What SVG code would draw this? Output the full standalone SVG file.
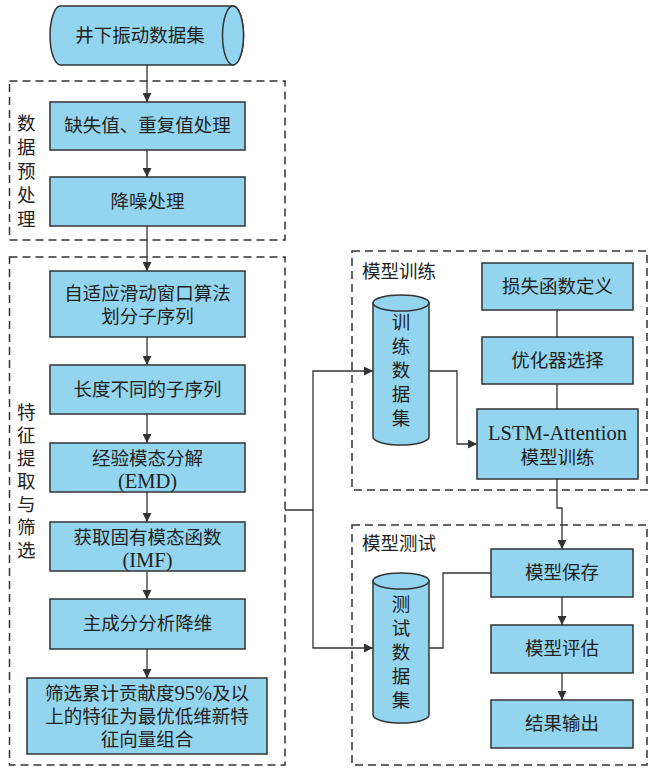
<svg xmlns="http://www.w3.org/2000/svg" width="651" height="768" viewBox="0 0 651 768">
<style>
  .box{fill:#93d5ee;stroke:#333;stroke-width:1.5}
  .dash{fill:none;stroke:#333;stroke-width:1.5;stroke-dasharray:8,5}
  .ln{fill:none;stroke:#333;stroke-width:1.3}
  .t{font-family:"Liberation Serif","Noto Sans CJK SC",serif;font-size:18.5px;fill:#222;text-anchor:middle}
  .lat{font-size:20.5px}
  .lbl{font-family:"Liberation Serif","Noto Sans CJK SC",serif;font-size:18.5px;fill:#222}
</style>
<defs>
  <marker id="arr" viewBox="0 0 10 10" refX="10" refY="5" markerWidth="9" markerHeight="9" markerUnits="userSpaceOnUse" orient="auto">
    <path d="M0,0 L10,5 L0,10 Z" fill="#333"/>
  </marker>
</defs>
<rect width="651" height="768" fill="#fff"/>

<g id="groups">
  <g id="grp-preprocess">
    <rect class="dash" x="9.5" y="81" width="275.5" height="159"/>
    <text class="lbl" x="17" y="130">数</text>
    <text class="lbl" x="17" y="154">据</text>
    <text class="lbl" x="17" y="178">预</text>
    <text class="lbl" x="17" y="202">处</text>
    <text class="lbl" x="17" y="226">理</text>
  </g>
  <g id="grp-feature">
    <rect class="dash" x="9.5" y="257" width="275.5" height="508"/>
    <text class="lbl" x="17" y="419">特</text>
    <text class="lbl" x="17" y="442">征</text>
    <text class="lbl" x="17" y="465">提</text>
    <text class="lbl" x="17" y="488">取</text>
    <text class="lbl" x="17" y="511">与</text>
    <text class="lbl" x="17" y="534">筛</text>
    <text class="lbl" x="17" y="557">选</text>
  </g>
  <g id="grp-train">
    <rect class="dash" x="352" y="251" width="295" height="239"/>
    <text class="lbl" x="362" y="278">模型训练</text>
  </g>
  <g id="grp-test">
    <rect class="dash" x="352" y="525" width="295" height="240"/>
    <text class="lbl" x="362" y="550">模型测试</text>
  </g>
</g>

<g id="connectors">
  <line class="ln" x1="147" y1="65" x2="147" y2="102" marker-end="url(#arr)"/>
  <line class="ln" x1="147" y1="150" x2="147" y2="177" marker-end="url(#arr)"/>
  <line class="ln" x1="147" y1="226" x2="147" y2="271" marker-end="url(#arr)"/>
  <line class="ln" x1="147" y1="337" x2="147" y2="365" marker-end="url(#arr)"/>
  <line class="ln" x1="147" y1="414" x2="147" y2="443" marker-end="url(#arr)"/>
  <line class="ln" x1="147" y1="492" x2="147" y2="522" marker-end="url(#arr)"/>
  <line class="ln" x1="147" y1="571" x2="147" y2="599" marker-end="url(#arr)"/>
  <line class="ln" x1="147" y1="649" x2="147" y2="678" marker-end="url(#arr)"/>
  <polyline class="ln" points="285,510 313,510 313,371 373,371" marker-end="url(#arr)"/>
  <polyline class="ln" points="313,510 313,648 373,648" marker-end="url(#arr)"/>
  <polyline class="ln" points="429,371 457,371 457,444 477,444" marker-end="url(#arr)"/>
  <line class="ln" x1="557" y1="310" x2="557" y2="337"/>
  <line class="ln" x1="557" y1="384" x2="557" y2="409"/>
  <polyline class="ln" points="557,479 557,508 562,508 562,549" marker-end="url(#arr)"/>
  <polyline class="ln" points="491,573 443,573 443,648 429,648"/>
  <line class="ln" x1="562" y1="597" x2="562" y2="625" marker-end="url(#arr)"/>
  <line class="ln" x1="562" y1="673" x2="562" y2="700" marker-end="url(#arr)"/>
</g>

<g id="n-dataset">
  <path class="box" d="M60.5,6 L233,6 A10.5,29.5 0 0 1 233,65 L60.5,65 A10.5,29.5 0 0 1 60.5,6 Z"/>
  <ellipse class="box" cx="233" cy="35.5" rx="10.5" ry="29.5"/>
  <text class="t" x="140" y="42">井下振动数据集</text>
</g>
<g id="n-missing">
  <rect class="box" x="50" y="102" width="195" height="48"/>
  <text class="t" x="147.5" y="132">缺失值、重复值处理</text>
</g>
<g id="n-denoise">
  <rect class="box" x="50" y="177" width="195" height="49"/>
  <text class="t" x="147.5" y="208">降噪处理</text>
</g>
<g id="n-window">
  <rect class="box" x="50" y="271" width="195" height="66"/>
  <text class="t" x="147.5" y="300">自适应滑动窗口算法</text>
  <text class="t" x="147.5" y="323">划分子序列</text>
</g>
<g id="n-subseq">
  <rect class="box" x="50" y="365" width="195" height="49"/>
  <text class="t" x="147.5" y="396">长度不同的子序列</text>
</g>
<g id="n-emd">
  <rect class="box" x="50" y="443" width="195" height="49"/>
  <text class="t" x="147.5" y="465">经验模态分解</text>
  <text class="t lat" x="147.5" y="488">(EMD)</text>
</g>
<g id="n-imf">
  <rect class="box" x="50" y="522" width="195" height="49"/>
  <text class="t" x="147.5" y="544">获取固有模态函数</text>
  <text class="t lat" x="147.5" y="567">(IMF)</text>
</g>
<g id="n-pca">
  <rect class="box" x="50" y="599" width="195" height="50"/>
  <text class="t" x="147.5" y="630">主成分分析降维</text>
</g>
<g id="n-select">
  <rect class="box" x="27" y="678" width="240" height="76"/>
  <text class="t" x="147" y="700">筛选累计贡献度<tspan class="lat">95%</tspan>及以</text>
  <text class="t" x="147" y="723">上的特征为最优低维新特</text>
  <text class="t" x="147" y="746">征向量组合</text>
</g>

<g id="n-traindata">
  <path class="box" d="M373,303 L373,437 A28,8 0 0 0 429,437 L429,303 Z"/>
  <ellipse class="box" cx="401" cy="303" rx="28" ry="8"/>
  <text class="t" x="401" y="329">训</text>
  <text class="t" x="401" y="353">练</text>
  <text class="t" x="401" y="377">数</text>
  <text class="t" x="401" y="401">据</text>
  <text class="t" x="401" y="425">集</text>
</g>
<g id="n-loss">
  <rect class="box" x="482" y="263" width="151" height="47"/>
  <text class="t" x="557.5" y="293">损失函数定义</text>
</g>
<g id="n-opt">
  <rect class="box" x="482" y="337" width="151" height="47"/>
  <text class="t" x="557.5" y="367">优化器选择</text>
</g>
<g id="n-lstm">
  <rect class="box" x="477" y="409" width="161" height="70"/>
  <text class="t lat" x="557.5" y="440">LSTM-Attention</text>
  <text class="t" x="557.5" y="464">模型训练</text>
</g>

<g id="n-testdata">
  <path class="box" d="M373,581 L373,715 A28,8 0 0 0 429,715 L429,581 Z"/>
  <ellipse class="box" cx="401" cy="581" rx="28" ry="8"/>
  <text class="t" x="401" y="611">测</text>
  <text class="t" x="401" y="635">试</text>
  <text class="t" x="401" y="659">数</text>
  <text class="t" x="401" y="683">据</text>
  <text class="t" x="401" y="707">集</text>
</g>
<g id="n-save">
  <rect class="box" x="491" y="549" width="142" height="48"/>
  <text class="t" x="562" y="579">模型保存</text>
</g>
<g id="n-eval">
  <rect class="box" x="491" y="625" width="142" height="48"/>
  <text class="t" x="562" y="655">模型评估</text>
</g>
<g id="n-output">
  <rect class="box" x="491" y="700" width="142" height="48"/>
  <text class="t" x="562" y="730">结果输出</text>
</g>
</svg>
